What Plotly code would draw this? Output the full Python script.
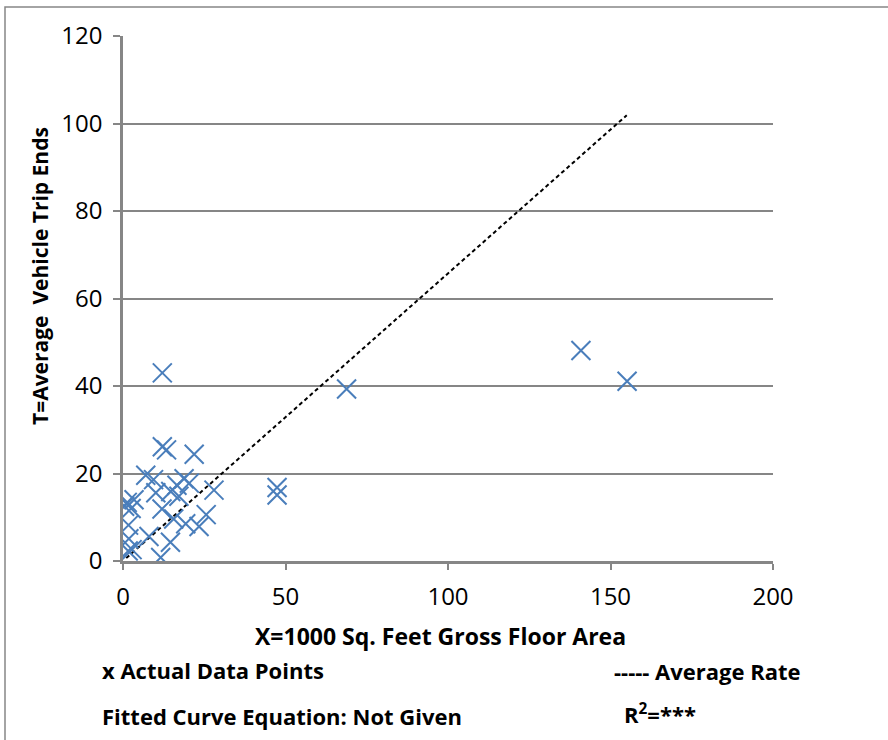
import plotly.graph_objects as go

# Data points (X = 1000 sq ft GFA, T = average vehicle trip ends)
x_pts = [0.5, 1.3, 3.4, 2.5, 1.7, 1.8, 1.6, 2.8, 7.0, 9.4, 10.1, 12.0, 11.6, 8.0,
         14.6, 12.1, 12.1, 13.4, 21.9, 16.6, 18.8, 20.4, 17.2, 14.7, 28.0, 25.6,
         19.3, 23.4, 15.6, 47.4, 47.4, 68.8, 140.9, 155.1]
y_pts = [12.5, 13.4, 14.0, 12.0, 8.2, 5.1, 2.3, 2.6, 19.6, 18.6, 15.6, 11.9, 0.8, 5.6,
         4.3, 43.0, 26.1, 25.4, 24.4, 17.3, 18.8, 17.8, 14.8, 15.9, 16.2, 10.6,
         8.5, 7.9, 9.6, 16.8, 15.1, 39.3, 48.1, 41.1]

# Average rate line
rate_x = [1.0, 155.0]
rate_y = [0.66, 101.9]

x_ticks = [0, 50, 100, 150, 200]
y_ticks = [0, 20, 40, 60, 80, 100, 120]

FONT = "Open Sans"
W, H = 888, 740
L, R, T, B = 123, 773, 36, 561


def px(xp):
    return (xp - L) / (R - L)


def py(yp):
    return (B - yp) / (B - T)


fig = go.Figure()
fig.add_trace(go.Scatter(
    x=rate_x, y=rate_y, mode="lines",
    line=dict(color="black", width=2, dash="4px,3px"),
    showlegend=False, hoverinfo="skip"))
fig.add_trace(go.Scatter(
    x=x_pts, y=y_pts, mode="markers",
    marker=dict(symbol="x-thin-open", size=19,
                line=dict(color="#4a7ebb", width=2), color="#4a7ebb"),
    showlegend=False))

fig.update_layout(
    width=W, height=H,
    margin=dict(l=L, r=W - R, t=T, b=H - B),
    paper_bgcolor="white", plot_bgcolor="white",
    font=dict(family=FONT, color="black"),
    xaxis=dict(range=[0, 200], tickvals=x_ticks, ticktext=[str(v) for v in x_ticks],
               showgrid=False, zeroline=False, showline=True, linecolor="#868686",
               linewidth=2.5, ticks="outside", ticklen=6, tickwidth=1.5,
               tickcolor="#868686", tickfont=dict(size=24, family=FONT),
               ticklabelstandoff=6),
    yaxis=dict(range=[0, 120], tickvals=y_ticks, ticktext=[str(v) for v in y_ticks],
               showgrid=True, gridcolor="#868686", gridwidth=1.5,
               zeroline=False, showline=True, linecolor="#868686",
               linewidth=2.5, ticks="outside", ticklen=7, tickwidth=1.5,
               tickcolor="#868686", tickfont=dict(size=24, family=FONT),
               ticklabelstandoff=6),
    shapes=[dict(type="rect", xref="paper", yref="paper",
                 x0=px(5), x1=px(1000), y0=py(900), y1=py(7),
                 line=dict(color="#868686", width=1.5), fillcolor="rgba(0,0,0,0)",
                 layer="below")],
)

ann = [
    dict(text="<b>X=1000 Sq. Feet Gross Floor Area</b>", x=px(440), y=py(636),
         xanchor="center", yanchor="middle", font=dict(size=23)),
    dict(text="<b>T=Average  Vehicle Trip Ends</b>", x=px(40), y=py(276),
         xanchor="center", yanchor="middle", textangle=-90, font=dict(size=21)),
    dict(text="<b>x Actual Data Points</b>", x=px(100), y=py(670),
         xanchor="left", yanchor="middle", font=dict(size=22)),
    dict(text="<b>----- Average Rate</b>", x=px(612), y=py(671),
         xanchor="left", yanchor="middle", font=dict(size=22)),
    dict(text="<b>Fitted Curve Equation: Not Given</b>", x=px(100), y=py(716),
         xanchor="left", yanchor="middle", font=dict(size=22)),
    dict(text="<b>R<sup>2</sup>=***</b>", x=px(622), y=py(713),
         xanchor="left", yanchor="middle", font=dict(size=22)),
]
for a in ann:
    a.update(xref="paper", yref="paper", showarrow=False)
    a["font"]["family"] = FONT
    a["font"]["color"] = "black"
fig.update_layout(annotations=ann)

fig.write_html("out.html")
